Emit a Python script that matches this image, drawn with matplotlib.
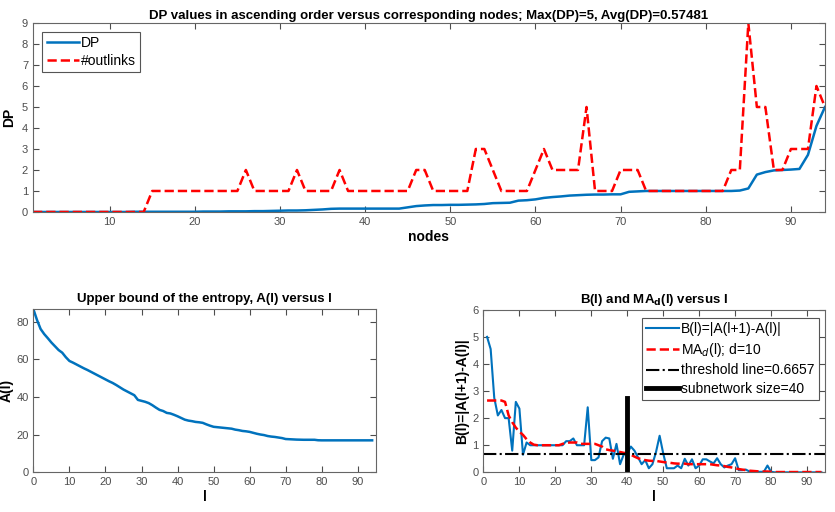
import matplotlib.pyplot as plt

plt.rcParams['font.family'] = ['Liberation Sans', 'DejaVu Sans']

# top panel: DP values sorted, with #outlinks of the same nodes
nodes = list(range(1, 95))
dp = [0.0] * 12 + [0.01] * 8 + [0.02, 0.02, 0.02, 0.03, 0.03, 0.03, 0.04, 0.04,
      0.05, 0.06, 0.07, 0.07, 0.08, 0.10, 0.12, 0.15,
      0.16, 0.16, 0.16, 0.16, 0.16, 0.16, 0.16, 0.16,
      0.22, 0.28, 0.31, 0.33, 0.33, 0.34, 0.34, 0.35, 0.36, 0.38, 0.42, 0.43, 0.44,
      0.54, 0.56, 0.60, 0.67, 0.71, 0.74, 0.78, 0.80, 0.82, 0.83, 0.83, 0.84, 0.84,
      0.96, 0.98] + [1.0] * 11 + [1.02, 1.12, 1.78, 1.90, 1.98, 2.0, 2.02, 2.05,
      2.72, 4.1, 5.0]
outlinks = [0] * 14 + [1] * 11 + [2] + [1] * 5 + [2] + [1] * 4 + [2] + [1] * 8 + \
    [2, 2] + [1] * 5 + [3, 3, 2] + [1] * 4 + [2, 3, 2, 2, 2, 2, 5, 1, 1, 1,
    2, 2, 2] + [1] * 10 + [2, 2, 9, 5, 5, 2, 2, 3, 3, 3, 6, 5]

# bottom left: upper bound of the entropy
l_a = list(range(0, 95))
A = [86.7, 81.0, 76.2, 73.5, 71.3, 69.0, 67.0, 65.0, 63.6, 61.2,
     59.2, 58.3, 57.3, 56.3, 55.3, 54.4, 53.4, 52.4, 51.4, 50.4,
     49.4, 48.4, 47.5, 46.4, 45.2, 44.0, 43.0, 42.0, 41.0, 38.5,
     38.0, 37.5, 36.8, 35.7, 34.4, 33.2, 32.6, 31.6, 31.3, 30.6,
     29.8, 28.9, 28.0, 27.5, 27.2, 26.8, 26.6, 26.3, 25.5, 24.8,
     24.2, 24.0, 23.8, 23.6, 23.4, 23.2, 22.7, 22.4, 22.0, 21.8,
     21.5, 21.0, 20.5, 20.1, 19.8, 19.3, 19.0, 18.8, 18.5, 18.2,
     17.7, 17.6, 17.5, 17.4, 17.35, 17.3, 17.3, 17.3, 17.3, 17.05] + [17.0] * 15

# bottom right: B(l) and moving average
l_b = list(range(1, 95))
B = [5.0, 4.55, 2.75, 2.1, 2.3, 2.0, 2.0, 0.8, 2.6, 2.35,
     0.65, 1.1, 1.0, 1.0, 1.0, 1.0, 1.0, 1.0, 1.0, 1.0,
     1.0, 1.0, 1.15, 1.15, 1.25, 1.0, 1.0, 1.0, 2.4, 0.45,
     0.45, 0.55, 1.15, 1.28, 1.25, 0.5, 1.05, 0.3, 0.65, 0.7,
     0.95, 0.8, 0.55, 0.3, 0.45, 0.15, 0.3, 0.75, 1.35, 0.7,
     0.15, 0.15, 0.15, 0.25, 0.15, 0.5, 0.25, 0.48, 0.15, 0.25,
     0.48, 0.48, 0.4, 0.33, 0.52, 0.3, 0.18, 0.25, 0.3, 0.52,
     0.08, 0.08, 0.1, 0.03, 0.02, 0.02, 0.02, 0.02, 0.25, 0.02] + [0.0] * 14
MA = [2.65, 2.65, 2.65, 2.65, 2.65, 2.6, 2.1, 1.85, 1.65, 1.5,
      1.38, 1.22, 1.1, 1.02, 1.0, 1.0, 1.0, 1.0, 1.0, 1.0,
      1.0, 1.05, 1.08, 1.1, 1.1, 1.1, 1.05, 1.05, 1.05, 1.05,
      1.05, 1.0, 0.95, 0.85, 0.82, 0.8, 0.78, 0.75, 0.72, 0.7,
      0.65, 0.58, 0.52, 0.48, 0.45, 0.43, 0.42, 0.42, 0.4, 0.38,
      0.36, 0.35, 0.33, 0.32, 0.32, 0.32, 0.3, 0.3, 0.3, 0.3,
      0.3, 0.3, 0.3, 0.28, 0.26, 0.25, 0.23, 0.2, 0.18, 0.15,
      0.12, 0.1, 0.08, 0.06, 0.05, 0.04, 0.03, 0.03, 0.03, 0.02] + [0.01] * 14
threshold = 0.6657
subnet_size = 40
subnet_height = 2.75

blue = '#0072BD'
gray = '#4d4d4d'


def style(ax):
    ax.tick_params(direction='in', top=True, right=True, labelsize=8,
                   colors=gray, length=4)
    for s in ax.spines.values():
        s.set_color('#666666')
        s.set_linewidth(0.8)


fig = plt.figure(figsize=(8.35, 5.12), dpi=100)

ax1 = fig.add_axes([0.0395, 0.586, 0.9485, 0.369])
ax1.plot(nodes, dp, color=blue, lw=1.8, label='DP')
ax1.plot(nodes, outlinks, 'r--', lw=1.8, label='#outlinks')
ax1.set_xlim(1, 94)
ax1.set_ylim(0, 9)
ax1.set_xticks(range(10, 91, 10))
ax1.set_yticks(range(0, 10))
ax1.set_xlabel('nodes', fontsize=10, fontweight='bold', labelpad=2)
ax1.set_ylabel('DP', fontsize=10, fontweight='bold', labelpad=4)
ax1.set_title('DP values in ascending order versus corresponding nodes; Max(DP)=5, Avg(DP)=0.57481',
              fontsize=9.5, fontweight='bold', pad=3)
style(ax1)
leg = ax1.legend(loc='upper left', bbox_to_anchor=(0.012, 0.955), borderaxespad=0,
                 fontsize=10, fancybox=False, framealpha=1, handlelength=2.3,
                 handletextpad=0.15, edgecolor='#555555', borderpad=0.3,
                 labelspacing=0.3)
leg.get_frame().set_linewidth(0.8)

ax2 = fig.add_axes([0.04, 0.0775, 0.41, 0.3185])
ax2.plot(l_a, A, color=blue, lw=1.8)
ax2.set_xlim(0, 95)
ax2.set_ylim(0, 86.7)
ax2.set_xticks(range(0, 91, 10))
ax2.set_yticks(range(0, 81, 20))
ax2.set_xlabel('l', fontsize=10, fontweight='bold', labelpad=2)
ax2.set_ylabel('A(l)', fontsize=10, fontweight='bold', labelpad=2)
ax2.set_title('Upper bound of the entropy, A(l) versus l', fontsize=9.5,
              fontweight='bold', pad=5)
style(ax2)

ax3 = fig.add_axes([0.579, 0.0775, 0.409, 0.3175])
ax3.plot(l_b, B, color=blue, lw=1.5, label='B(l)=|A(l+1)-A(l)|')
ax3.plot(l_b, MA, 'r--', lw=1.8, label=r'MA$_d$(l); d=10')
ax3.axhline(threshold, color='black', ls='-.', lw=1.5,
            label='threshold line=%.4f' % threshold)
ax3.plot([subnet_size, subnet_size], [0, subnet_height], color='black', lw=3.5,
         label='subnetwork size=%d' % subnet_size)
ax3.set_xlim(0, 95)
ax3.set_ylim(0, 6)
ax3.set_xticks(range(0, 91, 10))
ax3.set_yticks(range(0, 7))
ax3.set_xlabel('l', fontsize=10, fontweight='bold', labelpad=2)
ax3.set_ylabel('B(l)=|A(l+1)-A(l)|', fontsize=10, fontweight='bold', labelpad=2)
ax3.set_title(r'B(l) and MA$_\mathbf{d}$(l) versus l', fontsize=9.5,
              fontweight='bold', pad=5)
style(ax3)
leg = ax3.legend(loc='upper right', bbox_to_anchor=(0.982, 0.952), borderaxespad=0,
                 fontsize=10, fancybox=False, framealpha=1, handlelength=2.4,
                 handletextpad=0.15, edgecolor='#555555', borderpad=0.3,
                 labelspacing=0.35)
leg.get_frame().set_linewidth(0.8)

fig.savefig('out.png', dpi=100)
